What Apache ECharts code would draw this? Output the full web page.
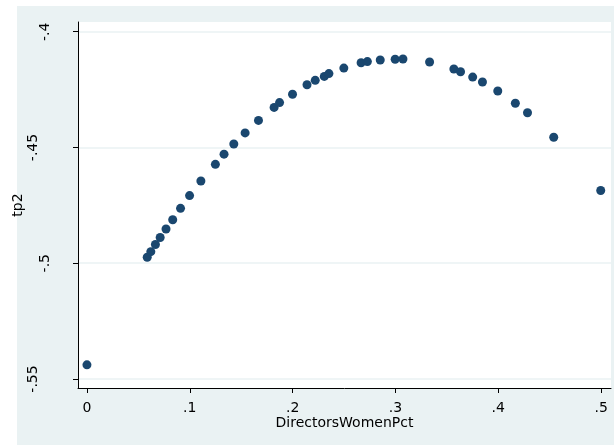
<!DOCTYPE html>
<html>
<head>
<meta charset="utf-8">
<script src="https://cdn.jsdelivr.net/npm/echarts@6/dist/echarts.min.js"></script>
<style>html,body{margin:0;padding:0;background:#fff;}#c{width:614px;height:445px;}</style>
</head>
<body>
<div id="c"></div>
<script>
var xValues = [0, 0.0586, 0.0621, 0.0666, 0.0712, 0.0769, 0.0834, 0.0910, 0.0998, 0.1108, 0.1249, 0.1333, 0.1428, 0.1538, 0.1668, 0.1820, 0.1873, 0.1999, 0.2140, 0.2220, 0.2308, 0.2353, 0.2498, 0.2666, 0.2727, 0.2852, 0.2997, 0.3073, 0.3332, 0.3568, 0.3633, 0.3751, 0.3846, 0.3995, 0.4166, 0.4284, 0.4539, 0.4996];
var yValues = [-0.5439, -0.4974, -0.4950, -0.4919, -0.4889, -0.4852, -0.4812, -0.4763, -0.4708, -0.4645, -0.4573, -0.4529, -0.4485, -0.4437, -0.4383, -0.4327, -0.4306, -0.4270, -0.4229, -0.4210, -0.4193, -0.4181, -0.4157, -0.4134, -0.4129, -0.4122, -0.4119, -0.4118, -0.4131, -0.4161, -0.4173, -0.4196, -0.4217, -0.4256, -0.4309, -0.4350, -0.4456, -0.4686];
var xTicks = [0, 0.1, 0.2, 0.3, 0.4, 0.5];
var xTickLabels = ['0', '.1', '.2', '.3', '.4', '.5'];
var yTicks = [-0.55, -0.5, -0.45, -0.4];
var yTickLabels = ['-.55', '-.5', '-.45', '-.4'];
var xTitle = 'DirectorsWomenPct';
var yTitle = 'tp2';

function lab(ticks, labels, rich) {
  return function (v) {
    for (var i = 0; i < ticks.length; i++) if (Math.abs(ticks[i] - v) < 1e-6) {
      var s = labels[i];
      if (!rich) return s;
      return (s.length > 3 ? '{l|' : '{s|') + s + '}';
    }
    return '';
  };
}
var pts = xValues.map(function (x, i) { return [x, yValues[i]]; });
var chart = echarts.init(document.getElementById('c'), null, {renderer: 'canvas'});
var font = 'DejaVu Sans, sans-serif';
chart.setOption({
  animation: false,
  backgroundColor: '#fff',
  graphic: [{type: 'rect', z: -10, silent: true, shape: {x: 17, y: 6, width: 597, height: 439}, style: {fill: '#EAF2F3'}}],
  grid: {left: 78, top: 22, right: 3, bottom: 57, show: true, backgroundColor: '#fff', borderWidth: 0, containLabel: false, outerBoundsMode: 'none'},
  xAxis: {
    type: 'value', min: -0.0087, max: 0.5096,
    name: xTitle, nameLocation: 'middle', nameGap: 28, nameMoveOverlap: false,
    nameTextStyle: {fontFamily: font, fontSize: 14, color: '#000'},
    axisLine: {show: true, onZero: false, lineStyle: {color: '#000', width: 1}},
    axisTick: {show: true, length: 5, customValues: xTicks, lineStyle: {color: '#000'}},
    axisLabel: {customValues: xTicks, formatter: lab(xTicks, xTickLabels, false), margin: 13, fontFamily: font, fontSize: 14, color: '#000'},
    splitLine: {show: false}
  },
  yAxis: {
    type: 'value', min: -0.5539, max: -0.3958,
    name: yTitle, nameLocation: 'middle', nameGap: 53, nameRotate: 90, nameMoveOverlap: false,
    nameTextStyle: {fontFamily: font, fontSize: 14, color: '#000'},
    axisLine: {show: true, onZero: false, lineStyle: {color: '#000', width: 1}},
    axisTick: {show: true, length: 5, customValues: yTicks, lineStyle: {color: '#000'}},
    axisLabel: {
      customValues: yTicks, formatter: lab(yTicks, yTickLabels, true), rotate: 90, margin: 26,
      fontFamily: font, fontSize: 14, color: '#000',
      rich: {
        s: {fontFamily: font, fontSize: 14, color: '#000'},
        l: {fontFamily: font, fontSize: 14, color: '#000', padding: [0, 0, 12, 0]}
      }
    },
    splitLine: {show: true, lineStyle: {color: '#EAF2F3', width: 1.5}}
  },
  series: [{
    type: 'scatter', data: pts, symbol: 'circle', symbolSize: 9,
    itemStyle: {color: '#1a476f', opacity: 1}
  }]
});
</script>
</body>
</html>
